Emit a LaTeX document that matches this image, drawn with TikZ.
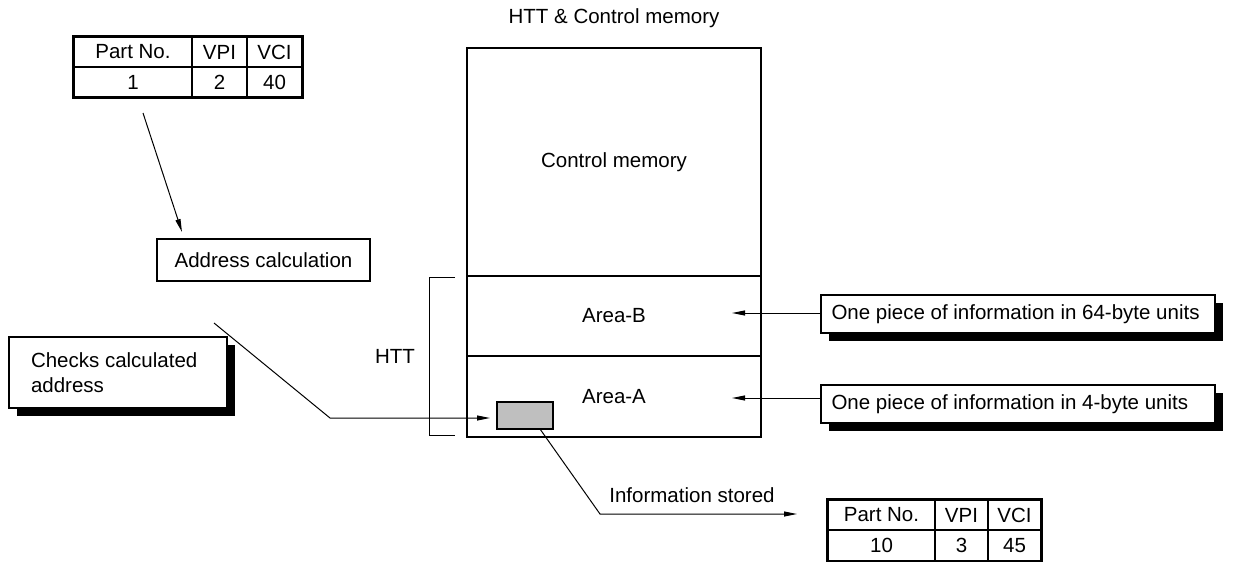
\documentclass[tikz,border=0pt]{standalone}
\usepackage{fontspec}
\setmainfont{Liberation Sans}
\usetikzlibrary{arrows.meta,shadows,calc}
\tikzset{
    membox/.style={draw,line width=2.5pt,minimum width=294,inner sep=0},
    tcell/.style={draw,line width=1.2pt,inner sep=0,minimum height=30},
    plainbox/.style={draw,line width=2pt,fill=white,inner sep=0},
    shadowbox/.style={draw,line width=2pt,fill=white,inner sep=0,align=flush left,
        drop shadow={shadow xshift=8pt,shadow yshift=-8pt,opacity=1,fill=black}},
    arr/.style={line width=1pt,-{Triangle[length=13pt,width=5pt]}}
}

\begin{document}
\begin{tikzpicture}[x=1pt,y=-1pt,font=\fontsize{20.5}{25}\selectfont]
    \useasboundingbox (0,0) rectangle (1233,563);

    % memory
    \node (title) at (614,18) {HTT \& Control memory};
    \node[membox,minimum height=228] (ctrl) at (614,162) {Control memory};
    \node[membox,minimum height=80] (areaB) at (614,316) {Area-B};
    \node[membox,minimum height=81] (areaA) at (614,396.5) {Area-A};
    \node[draw,line width=2pt,fill=black!25,minimum width=56,minimum height=27,inner sep=0]
        (slot) at (525,415.5) {};

    % HTT bracket
    \draw[line width=1pt] (455,277) -- (429,277) -- (429,435) -- (455,435);
    \node (htt) at (395,356) {HTT};

    % part table, input
    \node[tcell,minimum width=118] (a11) at (133,52) {Part No.};
    \node[tcell,minimum width=55] (a12) at (219.5,52) {VPI};
    \node[tcell,minimum width=55] (a13) at (274.5,52) {VCI};
    \node[tcell,minimum width=118] (a21) at (133,82) {1};
    \node[tcell,minimum width=55] (a22) at (219.5,82) {2};
    \node[tcell,minimum width=55] (a23) at (274.5,82) {40};
    \draw[line width=2pt] (a11.north west) rectangle (a23.south east);

    \node[plainbox,minimum width=213,minimum height=42] (addr) at (263.5,260) {Address calculation};
    \node[shadowbox,minimum height=71,text width=174,inner xsep=22]
        (check) at (118,372.5) {Checks calculated\\address};

    \coordinate (q0) at (143,113);
    \coordinate (q1) at (182,232);
    \draw[arr] (q0) -- (q1);

    \coordinate (r0) at (214,323);
    \coordinate (r1) at (330,418);
    \coordinate (r2) at (490,418);
    \draw[arr] (r0) -- (r1) -- (r2);

    % units
    \node[shadowbox,minimum height=38,text width=372,inner xsep=11]
        (unitB) at (1017.5,314) {One piece of information in 64-byte units};
    \node[shadowbox,minimum height=38,text width=372,inner xsep=11]
        (unitA) at (1017.5,404) {One piece of information in 4-byte units};
    \coordinate (inB) at (732,313);
    \coordinate (inA) at (732,398);
    \draw[arr] (unitB.west |- inB) -- (inB);
    \draw[arr] (unitA.west |- inA) -- (inA);

    % stored
    \coordinate (s0) at (540,429);
    \coordinate (s1) at (600,514);
    \coordinate (s2) at (797,514);
    \draw[arr] (s0) -- (s1) -- (s2);
    \node (stored) at (692,495) {Information stored};

    % part table, output
    \node[tcell,minimum width=107] (b11) at (881.5,515) {Part No.};
    \node[tcell,minimum width=53] (b12) at (961.5,515) {VPI};
    \node[tcell,minimum width=53] (b13) at (1014.5,515) {VCI};
    \node[tcell,minimum width=107] (b21) at (881.5,545.5) {10};
    \node[tcell,minimum width=53] (b22) at (961.5,545.5) {3};
    \node[tcell,minimum width=53] (b23) at (1014.5,545.5) {45};
    \draw[line width=2pt] (b11.north west) rectangle (b23.south east);
\end{tikzpicture}
\end{document}
